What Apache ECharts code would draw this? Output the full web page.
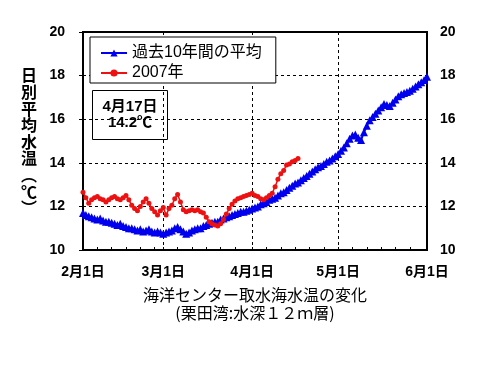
<!DOCTYPE html>
<html><head><meta charset="utf-8">
<script src="https://cdn.jsdelivr.net/npm/echarts@6/dist/echarts.min.js"></script>
<style>html,body{margin:0;padding:0;background:#fff}#c{width:500px;height:375px}</style>
</head><body><div id="c"></div>
<script>
// Dates: Feb 1 .. Jun 1 (2007), daily
const monthLengths = [[2, 28], [3, 31], [4, 30], [5, 31], [6, 1]];
const categories = [];
monthLengths.forEach(([m, n]) => { for (let d = 1; d <= n; d++) categories.push(m + '月' + d + '日'); });

const seriesNames = ['過去10年間の平均', '2007年'];

const avg10 = [
  11.7, 11.6, 11.55, 11.5, 11.45, 11.4, 11.45, 11.35, 11.3, 11.3,
  11.25, 11.2, 11.15, 11.2, 11.1, 11.05, 11.0, 11.0, 10.95, 10.9,
  10.95, 10.85, 10.9, 10.95, 10.85, 10.8, 10.85, 10.8, 10.75, 10.8,
  10.85, 10.9, 11.0, 11.05, 10.95, 10.85, 10.75, 10.8, 10.9, 10.95,
  11.0, 11.0, 11.1, 11.15, 11.2, 11.25, 11.3, 11.3, 11.4, 11.45,
  11.5, 11.55, 11.6, 11.65, 11.7, 11.75, 11.75, 11.8, 11.85, 11.9,
  11.95, 12.0, 12.1, 12.15, 12.2, 12.3, 12.35, 12.4, 12.5, 12.6,
  12.65, 12.75, 12.85, 12.95, 13.05, 13.1, 13.2, 13.3, 13.4, 13.5,
  13.6, 13.7, 13.8, 13.85, 13.95, 14.05, 14.1, 14.2, 14.3, 14.4,
  14.55, 14.7, 14.9, 15.1, 15.25, 15.3, 15.15, 15.05, 15.4, 15.7,
  15.95, 16.1, 16.25, 16.4, 16.55, 16.7, 16.65, 16.6, 16.75, 16.9,
  17.05, 17.15, 17.2, 17.25, 17.3, 17.4, 17.5, 17.6, 17.7, 17.8,
  17.95
];

const y2007 = [
  12.65, 12.4, 12.15, 12.3, 12.4, 12.45, 12.35, 12.3, 12.2, 12.3,
  12.4, 12.45, 12.35, 12.3, 12.4, 12.5, 12.3, 12.05, 11.9, 11.8,
  12.0, 12.2, 12.35, 12.15, 11.9, 11.75, 11.6, 11.8, 11.95, 11.6,
  11.9, 12.05, 12.35, 12.55, 12.2, 11.85, 11.75, 11.8, 11.85, 11.8,
  11.85, 11.75, 11.7, 11.5, 11.3, 11.2, 11.15, 11.1, 11.2, 11.4,
  11.65, 11.9, 12.1, 12.25, 12.35, 12.4, 12.45, 12.5, 12.55, 12.6,
  12.5, 12.45, 12.35, 12.3, 12.4, 12.5, 12.6, 12.9, 13.25, 13.5,
  13.65, 13.9, 13.95, 14.05, 14.1, 14.2
];

const yTicks = { min: 10, max: 20, interval: 2 };
const yAxisNameChars = ['日', '別', '平', '均', '水', '温', '︵', '℃', '︶'];
const titleLines = ['海洋センター取水海水温の変化', '(栗田湾:水深１２ｍ層)'];

const isMonthStart = (i) => /月1日$/.test(categories[i]);
const isMinorTick = (i) => { const d = parseInt(categories[i].split('月')[1]); return [1, 6, 11, 16, 21, 26].includes(d); };

const lastIdx = y2007.length - 1;
const noteText = categories[lastIdx] + '\n' + y2007[lastIdx].toFixed(1) + '℃';

const FONT = "'Liberation Sans', 'Noto Sans CJK JP', sans-serif";
const CJK = "'Noto Sans CJK JP', sans-serif";

const chart = echarts.init(document.getElementById('c'), null, { renderer: 'canvas' });
chart.setOption({
  animation: false,
  backgroundColor: '#fff',
  grid: { left: 83, right: 73, top: 32, bottom: 125, show: true, borderColor: '#000', borderWidth: 2, backgroundColor: 'transparent' },
  title: {
    text: titleLines.join('\n'), left: 255, top: 286, textAlign: 'center', padding: 0,
    textStyle: { fontFamily: CJK, fontSize: 16, fontWeight: 'normal', color: '#000', lineHeight: 18 }
  },
  legend: {
    data: seriesNames, orient: 'vertical', left: 90, top: 37,
    backgroundColor: '#fff', borderColor: '#000', borderWidth: 1,
    padding: [8, 14, 2, 10], itemGap: 4, itemWidth: 26, itemHeight: 9,
    textStyle: { fontFamily: FONT, fontSize: 16, color: '#000' }
  },
  xAxis: {
    type: 'category', data: categories, boundaryGap: false,
    axisLine: { show: true, lineStyle: { color: '#000', width: 2 } },
    axisTick: { show: true, inside: true, length: 3, interval: (i) => isMinorTick(i), lineStyle: { color: '#000' } },
    axisLabel: { interval: (i) => isMonthStart(i), margin: 15, fontFamily: FONT, fontSize: 14, fontWeight: 'bold', color: '#000' },
    splitLine: { show: true, interval: (i) => isMonthStart(i), lineStyle: { color: '#000', type: [3, 3], width: 1 } }
  },
  yAxis: [
    {
      type: 'value', min: yTicks.min, max: yTicks.max, interval: yTicks.interval, position: 'left',
      axisLine: { show: true, lineStyle: { color: '#000', width: 2 } },
      axisTick: { show: true, length: 4, lineStyle: { color: '#000' } },
      axisLabel: { margin: 18, fontFamily: FONT, fontSize: 14, fontWeight: 'bold', color: '#000' },
      splitLine: { show: true, lineStyle: { color: '#000', type: [3, 3], width: 1 } }
    },
    {
      type: 'value', min: yTicks.min, max: yTicks.max, interval: yTicks.interval, position: 'right',
      axisLine: { show: true, lineStyle: { color: '#000', width: 2 } },
      axisTick: { show: false },
      axisLabel: { margin: 13, fontFamily: FONT, fontSize: 14, fontWeight: 'bold', color: '#000' },
      splitLine: { show: false }
    }
  ],
  series: [
    {
      name: seriesNames[0], type: 'line', data: avg10, yAxisIndex: 0,
      symbol: 'triangle', symbolSize: 8, showAllSymbol: true,
      lineStyle: { color: '#0000ee', width: 2 }, itemStyle: { color: '#0000ee' }, z: 3
    },
    {
      name: seriesNames[1], type: 'line', data: y2007, yAxisIndex: 0,
      symbol: 'circle', symbolSize: 5, showAllSymbol: true,
      lineStyle: { color: '#ee1111', width: 1.5 }, itemStyle: { color: '#ee1111' }, z: 4
    }
  ],
  graphic: [
    {
      type: 'text', left: 21, top: 67,
      style: { text: yAxisNameChars.join('\n'), fontFamily: CJK, fontSize: 16, fontWeight: 'bold', lineHeight: 16.6, fill: '#000', align: 'center' }
    },
    {
      type: 'group', left: 92, top: 90,
      children: [
        { type: 'rect', shape: { x: 0, y: 0, width: 75, height: 49 }, style: { fill: '#fff', stroke: '#000', lineWidth: 1 } },
        { type: 'text', x: 37.5, y: 24.5, style: { text: noteText, align: 'center', verticalAlign: 'middle', fontFamily: FONT, fontSize: 15, fontWeight: 'bold', lineHeight: 16, fill: '#000' } }
      ]
    }
  ]
});
</script>
</body></html>
